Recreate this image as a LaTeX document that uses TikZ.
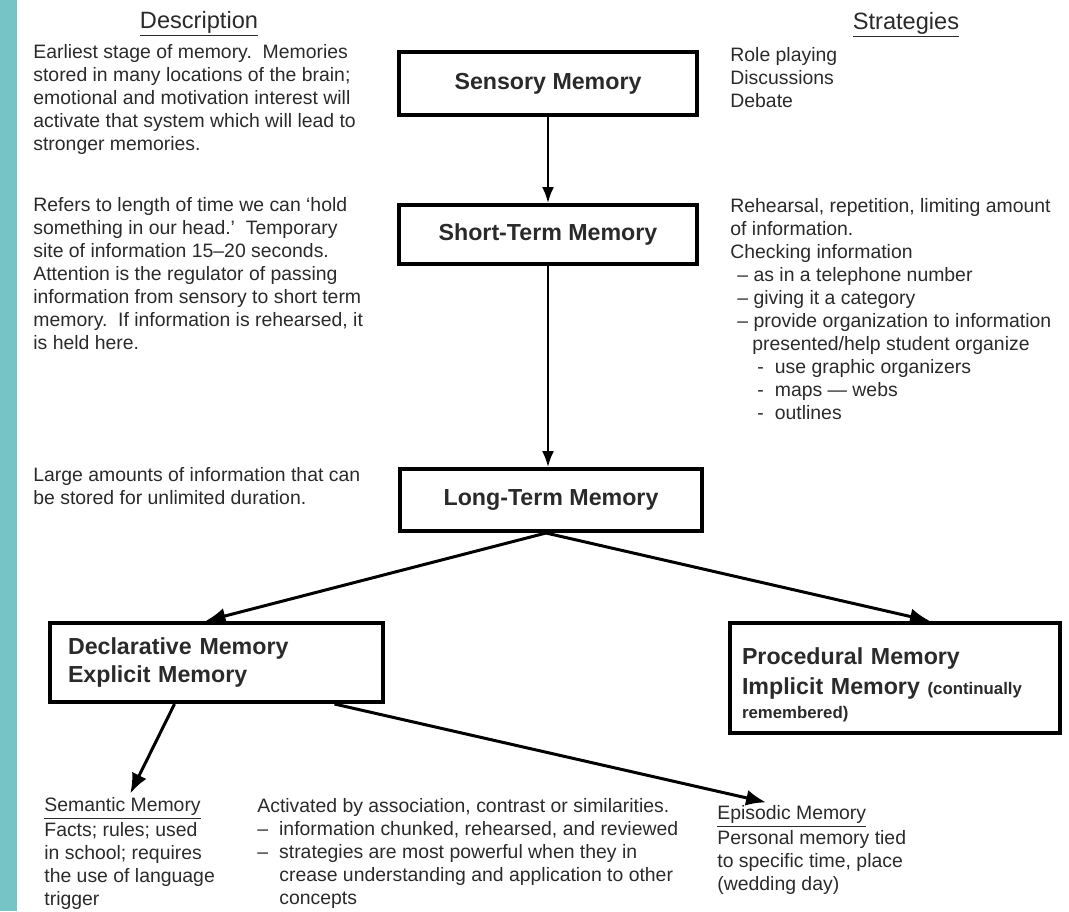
\documentclass[tikz,border=0pt]{standalone}
\usepackage{fontspec}
\setmainfont{Liberation Sans}
\usepackage{tikz}
\usetikzlibrary{positioning,arrows.meta}
\definecolor{sidebar}{RGB}{118,196,198}
\definecolor{ink}{RGB}{42,42,42}
\tikzset{memory/.style={draw=black,line width=2pt,fill=white,inner sep=0pt,text=ink,font=\fontsize{11.6}{14}\selectfont\bfseries}}
\tikzset{note/.style={inner sep=0pt,align=left,anchor=north west,text=ink,font=\fontsize{9.7}{11.5}\selectfont}}
\tikzset{heading/.style={inner sep=0pt,anchor=base,text=ink,font=\fontsize{11.8}{14}\selectfont}}
\tikzset{flow/.style={-{Latex[length=8pt,width=6pt]},line width=1.1pt}}
\tikzset{branch/.style={-{Latex[length=10pt,width=8pt]},line width=1.5pt}}
\newcommand{\remark}{\fontsize{8.4}{10}\selectfont}

\begin{document}
\begin{tikzpicture}[x=0.5pt,y=-0.5pt]
\useasboundingbox (0,0) rectangle (1069,911);
\fill[sidebar] (0,0) rectangle (17,911);

\node[heading] (desc) at (199,28) {\underline{Description}};
\node[heading] (strat) at (906,29) {\underline{Strategies}};

% the memory stages
\node[memory,minimum width=149pt,minimum height=31.5pt] (sensory) at (548,83.5) {\raisebox{1.5pt}{Sensory Memory}};
\node[memory,minimum width=149pt,minimum height=29.5pt] (short) at (548,234.5) {Short-Term Memory};
\node[memory,minimum width=151pt,minimum height=31pt] (long) at (551,500) {Long-Term Memory};
\node[memory,minimum height=39.5pt,text width=148.5pt,inner xsep=9pt,align=left] (decl) at (216.5,662.5)
  {Declarative Memory\\Explicit Memory};
\node[memory,minimum height=55pt,text width=153pt,inner xsep=6pt,align=left] (proc) at (895,678)
  {\rule{0pt}{15pt}Procedural Memory\\[1pt]Implicit Memory {\remark(continually}\\[-2pt]{\remark remembered)}};

% descriptions
\node[note] (d1) at (33,44) {Earliest stage of memory.\ \ Memories\\stored in many locations of the brain;\\emotional and motivation interest will\\activate that system which will lead to\\stronger memories.};
\node[note] (d2) at (33,197) {Refers to length of time we can ‘hold\\something in our head.’\ \ Temporary\\site of information 15–20 seconds.\\Attention is the regulator of passing\\information from sensory to short term\\memory.\ \ If information is rehearsed, it\\is held here.};
\node[note] (d3) at (33,467) {Large amounts of information that can\\be stored for unlimited duration.};

% strategies
\node[note] (s1) at (730,47) {Role playing\\Discussions\\Debate};
\node[note] (s2) at (730,198) {Rehearsal, repetition, limiting amount\\of information.\\Checking information\\
  \hspace*{3.5pt}– as in a telephone number\\
  \hspace*{3.5pt}– giving it a category\\
  \hspace*{3.5pt}– provide organization to information\\
  \hspace*{11pt}presented/help student organize\\
  \hspace*{13.5pt}-\hspace{5.5pt}use graphic organizers\\
  \hspace*{13.5pt}-\hspace{5.5pt}maps — webs\\
  \hspace*{13.5pt}-\hspace{5.5pt}outlines};

% bottom row
\node[note] (semantic) at (44,797) {\underline{Semantic Memory}};
\node[note,below=1pt of semantic.south west,anchor=north west] (semtext) {Facts; rules; used\\in school; requires\\the use of language\\trigger};
\node[note] (assoc) at (257,798) {Activated by association, contrast or similarities.\\
  –\hspace{5.5pt}information chunked, rehearsed, and reviewed\\
  –\hspace{5.5pt}strategies are most powerful when they in\\
  \hspace*{11pt}crease understanding and application to other\\
  \hspace*{11pt}concepts};
\node[note] (episodic) at (717,805) {\underline{Episodic Memory}};
\node[note,below=1pt of episodic.south west,anchor=north west] (eptext) {Personal memory tied\\to specific time, place\\(wedding day)};

\draw[flow] (sensory) -- (short);
\draw[flow] (short.south) -- (short.south |- long.north);
\draw[branch] ([xshift=-2.5pt]long.south) -- ([xshift=-5.5pt]decl.north);
\draw[branch] ([xshift=-2.5pt]long.south) -- ([xshift=17.5pt]proc.north);
\draw[branch,shorten >=2pt] ([xshift=-21pt]decl.south) -- ([xshift=3pt]semantic.north);
\draw[branch,shorten >=6pt] ([xshift=59pt]decl.south) -- ([xshift=-7pt]episodic.north);
\end{tikzpicture}
\end{document}
